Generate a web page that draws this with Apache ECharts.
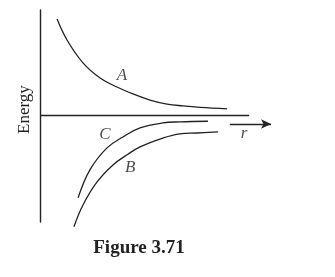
<!DOCTYPE html>
<html><head><meta charset="utf-8">
<script src="https://cdn.jsdelivr.net/npm/echarts@6/dist/echarts.min.js"></script>
<style>html,body{margin:0;padding:0;background:#fff}#c{width:335px;height:277px}</style>
</head><body><div id="c"></div>
<script>
var curveA = [[0.74,4.57],[1.17,3.57],[1.86,2.48],[2.60,1.76],[3.33,1.33],[4.03,1.00],[4.76,0.71],[5.50,0.52],[6.19,0.43],[6.93,0.36],[8.10,0.29]];
var curveC = [[1.65,-3.95],[2.16,-2.62],[2.90,-1.57],[3.59,-1.05],[4.33,-0.62],[5.32,-0.38],[6.06,-0.33],[7.27,-0.30]];
var curveB = [[1.47,-5.33],[1.86,-4.29],[2.47,-3.19],[3.16,-2.38],[3.77,-1.90],[4.33,-1.52],[5.32,-1.10],[6.06,-0.90],[6.80,-0.86],[7.71,-0.81]];
var curveLabels = [[3.55,1.90,'A'],[2.81,-0.95,'C'],[3.90,-2.52,'B'],[8.83,-0.90,'r']];
var rAxisEnd = 9.05;
var arrowSeg = [[8.22,-0.43],[10,-0.43]];
var yTitle = 'Energy';
var caption = 'Figure 3.71';

var ink = '#222';
var chart = echarts.init(document.getElementById('c'), null, {renderer:'canvas'});
function curve(d){
  return {type:'line', data:d, smooth:0.4, showSymbol:false, clip:false,
    lineStyle:{color:ink, width:1.3}, silent:true, animation:false};
}
chart.setOption({
  animation:false,
  grid:{left:40, right:64, top:10, bottom:55},
  xAxis:{type:'value', min:0, max:10, axisLine:{show:false}, axisTick:{show:false}, axisLabel:{show:false}, splitLine:{show:false}},
  yAxis:{type:'value', min:-5.1, max:5, axisLine:{show:true, onZero:false, lineStyle:{color:ink, width:1.4}}, axisTick:{show:false}, axisLabel:{show:false}, splitLine:{show:false}},
  series:[
    curve(curveA), curve(curveC), curve(curveB),
    {type:'line', data:[], markLine:{silent:true, symbol:['none','none'], label:{show:false},
      lineStyle:{color:ink, width:1.4, type:'solid'},
      data:[[{coord:[0,0]},{coord:[rAxisEnd,0]}]]}},
    {type:'line', data:[], markLine:{silent:true, symbol:['none','arrow'], symbolSize:[7,10], label:{show:false},
      lineStyle:{color:ink, width:1.4, type:'solid'},
      data:[[{coord:arrowSeg[0]},{coord:arrowSeg[1]}]]}},
    {type:'scatter', symbolSize:0, clip:false, data:curveLabels,
      label:{show:true, position:'inside', formatter:function(p){return p.data[2];},
        fontFamily:'Liberation Serif', fontStyle:'italic', fontSize:17, color:ink}}
  ],
  graphic:[
    {type:'text', x:16, y:134, rotation:Math.PI/2, style:{text:yTitle, font:'17px "Liberation Serif"', fill:ink, textAlign:'left', textVerticalAlign:'top'}},
    {type:'text', x:139, y:258, style:{text:caption, font:'bold 19px "Liberation Serif"', fill:ink, textAlign:'center', textVerticalAlign:'bottom'}}
  ]
});
</script></body></html>
